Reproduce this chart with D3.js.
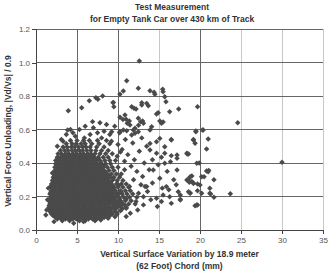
<!DOCTYPE html>
<html>
<head>
<meta charset="utf-8">
<script src="https://cdn.jsdelivr.net/npm/d3@7"></script>
<style>
  body { margin: 0; background: #fff; }
  svg { display: block; font-family: "Liberation Sans", Arial, sans-serif; }
</style>
</head>
<body>
<div id="chart"></div>
<script>
// dense core of the cloud, read row by row (force level -> surface variation values)
var coreLevels = [0.055, 0.075, 0.095, 0.115, 0.135, 0.155, 0.175, 0.195, 0.215, 0.235, 0.255, 0.275,
  0.295, 0.315, 0.335, 0.355, 0.375, 0.395, 0.415, 0.435, 0.455, 0.475, 0.495, 0.515, 0.535];
var coreRows = [
  [3.2, 4.1, 5.3, 6.0, 7.2],
  [2.4, 2.9, 3.4, 3.8, 4.3, 4.8, 5.2, 5.7, 6.2, 6.6, 7.1, 7.6, 8.3],
  [1.9, 2.3, 2.8, 3.2, 3.7, 4.1, 4.6, 5.0, 5.5, 5.9, 6.4, 6.8, 7.3, 7.7, 8.2, 8.7, 9.3, 9.9],
  [1.7, 2.1, 2.6, 3.0, 3.5, 3.9, 4.4, 4.8, 5.3, 5.7, 6.2, 6.6, 7.1, 7.5, 8.0, 8.5, 9.0, 9.6, 10.3],
  [1.6, 2.0, 2.5, 2.9, 3.3, 3.8, 4.2, 4.7, 5.1, 5.6, 6.0, 6.5, 6.9, 7.4, 7.8, 8.3, 8.8, 9.3, 9.8, 10.4, 11.0],
  [1.7, 2.2, 2.6, 3.1, 3.5, 4.0, 4.4, 4.9, 5.3, 5.8, 6.2, 6.7, 7.1, 7.6, 8.0, 8.5, 9.0, 9.5, 10.0, 10.6, 11.3, 12.1],
  [1.6, 2.0, 2.5, 2.9, 3.4, 3.8, 4.3, 4.7, 5.2, 5.6, 6.1, 6.5, 7.0, 7.4, 7.9, 8.3, 8.8, 9.3, 9.8, 10.3, 10.9, 11.6],
  [1.8, 2.2, 2.7, 3.1, 3.6, 4.0, 4.5, 4.9, 5.4, 5.8, 6.3, 6.7, 7.2, 7.6, 8.1, 8.6, 9.1, 9.6, 10.1, 10.7, 11.4, 12.3],
  [1.7, 2.1, 2.6, 3.0, 3.5, 3.9, 4.4, 4.8, 5.3, 5.7, 6.2, 6.6, 7.1, 7.5, 8.0, 8.4, 8.9, 9.4, 10.0, 10.5, 11.1, 11.8],
  [1.9, 2.3, 2.8, 3.2, 3.7, 4.1, 4.6, 5.0, 5.5, 5.9, 6.4, 6.8, 7.3, 7.7, 8.2, 8.7, 9.2, 9.7, 10.3, 10.9, 11.5],
  [1.8, 2.2, 2.7, 3.1, 3.6, 4.0, 4.5, 4.9, 5.4, 5.8, 6.3, 6.7, 7.2, 7.6, 8.1, 8.5, 9.0, 9.5, 10.0, 10.6, 11.3],
  [1.9, 2.4, 2.8, 3.3, 3.7, 4.2, 4.6, 5.1, 5.5, 6.0, 6.4, 6.9, 7.3, 7.8, 8.2, 8.7, 9.2, 9.8, 10.4, 11.0],
  [2.0, 2.4, 2.9, 3.3, 3.8, 4.2, 4.7, 5.1, 5.6, 6.0, 6.5, 6.9, 7.4, 7.8, 8.3, 8.8, 9.3, 9.9, 10.6],
  [2.1, 2.6, 3.0, 3.5, 3.9, 4.4, 4.8, 5.3, 5.7, 6.2, 6.6, 7.1, 7.5, 8.0, 8.5, 9.0, 9.5, 10.2],
  [2.2, 2.6, 3.1, 3.5, 4.0, 4.4, 4.9, 5.3, 5.8, 6.2, 6.7, 7.1, 7.6, 8.1, 8.6, 9.2, 9.8, 10.4],
  [2.3, 2.8, 3.2, 3.7, 4.1, 4.6, 5.0, 5.5, 5.9, 6.4, 6.8, 7.3, 7.8, 8.3, 8.9, 9.5],
  [2.3, 2.7, 3.2, 3.6, 4.1, 4.5, 5.0, 5.4, 5.9, 6.3, 6.8, 7.2, 7.7, 8.2, 8.7, 9.3, 10.0],
  [2.4, 2.9, 3.3, 3.8, 4.2, 4.7, 5.1, 5.6, 6.0, 6.5, 6.9, 7.4, 7.9, 8.5, 9.1],
  [2.4, 2.8, 3.3, 3.7, 4.2, 4.6, 5.1, 5.5, 6.0, 6.4, 6.9, 7.3, 7.8, 8.4, 9.0, 9.7],
  [2.6, 3.0, 3.5, 3.9, 4.4, 4.8, 5.3, 5.7, 6.2, 6.6, 7.1, 7.6, 8.2, 8.8],
  [2.7, 3.1, 3.6, 4.0, 4.5, 4.9, 5.4, 5.8, 6.3, 6.7, 7.2, 7.8, 8.5, 9.3],
  [3.0, 3.5, 3.9, 4.4, 4.8, 5.3, 5.7, 6.2, 6.7, 7.3, 8.0, 8.8],
  [3.3, 3.8, 4.3, 4.7, 5.2, 5.7, 6.1, 6.6, 7.4, 8.3],
  [3.7, 4.4, 4.9, 5.5, 6.0, 6.8, 7.7, 9.0],
  [4.2, 5.0, 5.8, 6.5, 7.5, 8.6]
];

// in-between rows of the solid part of the core
var fillLevels = [0.065, 0.085, 0.105, 0.125, 0.145, 0.165, 0.185, 0.205, 0.225, 0.245,
  0.265, 0.285, 0.305, 0.325, 0.345, 0.365, 0.385, 0.405, 0.425, 0.445];
var fillRows = [
  [2.6, 3.1, 3.6, 4.0, 4.5, 4.9, 5.4, 5.9, 6.4, 6.9, 7.4, 7.9],
  [2.1, 2.6, 3.0, 3.5, 3.9, 4.4, 4.8, 5.3, 5.7, 6.2, 6.6, 7.1, 7.5, 8.0, 8.5, 9.0],
  [1.8, 2.3, 2.7, 3.2, 3.6, 4.1, 4.5, 5.0, 5.4, 5.9, 6.3, 6.8, 7.2, 7.7, 8.1, 8.6, 9.2, 9.8],
  [1.7, 2.2, 2.6, 3.1, 3.5, 4.0, 4.4, 4.9, 5.3, 5.8, 6.2, 6.7, 7.1, 7.6, 8.0, 8.5, 9.1, 9.7, 10.5],
  [1.6, 2.1, 2.5, 3.0, 3.4, 3.9, 4.3, 4.8, 5.2, 5.7, 6.1, 6.6, 7.0, 7.5, 7.9, 8.4, 8.9, 9.5, 10.2, 10.9],
  [1.8, 2.2, 2.7, 3.1, 3.6, 4.0, 4.5, 4.9, 5.4, 5.8, 6.3, 6.7, 7.2, 7.6, 8.1, 8.6, 9.1, 9.7, 10.4],
  [1.7, 2.1, 2.6, 3.0, 3.5, 3.9, 4.4, 4.8, 5.3, 5.7, 6.2, 6.6, 7.1, 7.5, 8.0, 8.4, 8.9, 9.5, 10.2, 11.0],
  [1.9, 2.3, 2.8, 3.2, 3.7, 4.1, 4.6, 5.0, 5.5, 5.9, 6.4, 6.8, 7.3, 7.7, 8.2, 8.7, 9.3, 9.9],
  [1.8, 2.2, 2.7, 3.1, 3.6, 4.0, 4.5, 4.9, 5.4, 5.8, 6.3, 6.7, 7.2, 7.6, 8.1, 8.6, 9.1, 9.7, 10.4],
  [2.0, 2.4, 2.9, 3.3, 3.8, 4.2, 4.7, 5.1, 5.6, 6.0, 6.5, 6.9, 7.4, 7.8, 8.3, 8.8, 9.4],
  [1.9, 2.3, 2.8, 3.2, 3.7, 4.1, 4.6, 5.0, 5.5, 5.9, 6.4, 6.8, 7.3, 7.7, 8.2, 8.7, 9.3, 10.1],
  [2.1, 2.5, 3.0, 3.4, 3.9, 4.3, 4.8, 5.2, 5.7, 6.1, 6.6, 7.0, 7.5, 7.9, 8.4, 9.0],
  [2.2, 2.7, 3.1, 3.6, 4.0, 4.5, 4.9, 5.4, 5.8, 6.3, 6.7, 7.2, 7.6, 8.1, 8.7, 9.4],
  [2.3, 2.8, 3.2, 3.7, 4.1, 4.6, 5.0, 5.5, 5.9, 6.4, 6.8, 7.3, 7.8, 8.3, 8.9],
  [2.4, 2.9, 3.3, 3.8, 4.2, 4.7, 5.1, 5.6, 6.0, 6.5, 6.9, 7.4, 7.9, 8.5],
  [2.5, 3.0, 3.4, 3.9, 4.3, 4.8, 5.2, 5.7, 6.1, 6.6, 7.0, 7.5, 8.0],
  [2.6, 3.1, 3.5, 4.0, 4.4, 4.9, 5.3, 5.8, 6.2, 6.7, 7.1, 7.6, 8.2],
  [2.7, 3.2, 3.6, 4.1, 4.5, 5.0, 5.4, 5.9, 6.3, 6.8, 7.3, 7.9],
  [2.9, 3.4, 3.8, 4.3, 4.7, 5.2, 5.6, 6.1, 6.5, 7.0, 7.6],
  [3.2, 3.7, 4.1, 4.6, 5.0, 5.5, 5.9, 6.4, 6.9]
];

// scattered points outside the core (surface variation mm, force unloading)
var outerX = [12.6, 11.06, 12.48, 10.65, 10.24, 13.9, 14.4, 14.5, 15.45, 15.5, 15.7, 15.85, 17.4, 19.7, 16.3, 14.9, 14.7,
  9.4, 9.5, 11.67, 11.95, 12.2, 12.9, 12.9, 13.5, 13.7, 10.85, 10.24, 10.98, 11.38, 11.13, 12.48, 12.77, 13.0, 13.1,
  15.1, 15.3, 15.5, 14.1, 13.9, 11.46, 12.07, 11.87, 12.48, 12.07, 11.67, 11.06, 10.65, 10.24, 9.23, 19.5, 20.3,
  16.5, 19.2, 21.0, 14.7, 13.9, 24.6, 19.5, 20.4, 19.2, 20.8, 18.45, 19.9, 30.0, 20.8, 21.06, 20.5, 21.7, 19.0, 18.6,
  18.7, 19.7, 19.7, 21.2, 18.8, 20.2, 21.3, 21.7, 23.7, 17.6, 17.6, 19.4, 19.7,
  16.5, 15.3, 15.7, 17.2, 18.6, 16.4, 17.2, 18.8, 21.0, 20.2, 18.4, 19.2, 20.0, 19.0, 21.2, 17.35, 16.3, 15.5, 18.8,
  9.63, 15.1, 15.7, 16.5, 17.2, 18.4, 19.4, 19.6, 19.2, 18.6, 17.6, 16.5, 19.6, 15.7, 14.7, 13.9, 14.3, 15.1, 15.9,
  13.5, 13.1, 14.7,
  3.94, 5.57, 6.5, 7.3, 7.55, 8.13, 9.43, 6.9, 3.86,
  10.5, 11.2, 12.0, 12.6, 13.2, 11.6, 12.3, 13.0, 13.8, 12.8, 13.6, 14.2, 11.9, 12.5, 13.1, 12.4, 11.5, 14.8,
  10.9, 11.8, 12.9, 13.5, 10.2, 9.0, 8.3, 7.5, 6.6, 9.6, 8.6, 7.8, 10.6, 14.2, 14.9, 16.0, 16.8, 15.4, 16.2, 17.1,
  14.0, 15.3, 11.0, 1.3, 1.4, 1.2, 1.5, 2.0, 2.6, 3.1, 3.7, 4.5, 5.3, 6.0, 2.2, 4.6, 5.8, 7.9, 8.8, 12.5,
  4.8, 5.9, 7.0, 8.0, 9.2, 10.0, 3.3, 4.2, 9.9, 10.8, 11.4, 12.2, 13.3, 11.0, 10.3, 10.8];
var outerY = [1.009, 0.891, 0.846, 0.83, 0.81, 0.832, 0.822, 0.81, 0.84, 0.826, 0.796, 0.766, 0.722, 0.736, 0.706, 0.70, 0.692,
  0.76, 0.736, 0.736, 0.727, 0.722, 0.76, 0.746, 0.756, 0.742, 0.687, 0.673, 0.661, 0.651, 0.637, 0.667, 0.647, 0.651, 0.637,
  0.651, 0.637, 0.645, 0.617, 0.597, 0.627, 0.607, 0.597, 0.587, 0.577, 0.567, 0.593, 0.597, 0.587, 0.587, 0.591, 0.597,
  0.541, 0.537, 0.543, 0.527, 0.517, 0.64, 0.587, 0.597, 0.54, 0.484, 0.454, 0.40, 0.404, 0.352, 0.356, 0.318, 0.30, 0.322, 0.304,
  0.285, 0.275, 0.235, 0.249, 0.221, 0.219, 0.215, 0.195, 0.217, 0.209, 0.183, 0.145, 0.149,
  0.444, 0.434, 0.458, 0.428, 0.454, 0.408, 0.358, 0.318, 0.348, 0.318, 0.299, 0.279, 0.269, 0.289, 0.219, 0.229, 0.199, 0.209, 0.219,
  0.079, 0.547, 0.497, 0.537, 0.448, 0.458, 0.518, 0.398, 0.279, 0.229, 0.179, 0.159, 0.149, 0.398, 0.458, 0.478, 0.358, 0.309, 0.259,
  0.259, 0.199, 0.189,
  0.712, 0.73, 0.772, 0.79, 0.78, 0.80, 0.762, 0.647, 0.597,
  0.48, 0.45, 0.42, 0.47, 0.40, 0.38, 0.35, 0.32, 0.36, 0.27, 0.23, 0.28, 0.30, 0.22, 0.15, 0.12, 0.10, 0.14,
  0.54, 0.52, 0.55, 0.50, 0.58, 0.57, 0.59, 0.58, 0.57, 0.62, 0.63, 0.64, 0.66, 0.42, 0.39, 0.35, 0.30, 0.25, 0.24, 0.27,
  0.18, 0.17, 0.08, 0.12, 0.18, 0.09, 0.25, 0.34, 0.50, 0.54, 0.57, 0.58, 0.60, 0.62, 0.05, 0.04, 0.05, 0.06, 0.07, 0.625,
  0.56, 0.55, 0.61, 0.55, 0.53, 0.51, 0.53, 0.60, 0.44, 0.36, 0.26, 0.17, 0.26, 0.13, 0.465, 0.41];

var xTicks = [0, 5, 10, 15, 20, 25, 30, 35];
var yTicks = [0.0, 0.2, 0.4, 0.6, 0.8, 1.0, 1.2];
var lightGridX = [15, 25, 30, 35];
var titleLines = ["Test Measurement", "for Empty Tank Car over 430 km  of Track"];
var xTitleLines = ["Vertical Surface Variation by 18.9 meter", "(62 Foot) Chord (mm)"];
var yTitle = "Vertical Force Unloading, |Vd/Vs| / 0.9";

var w = 329, h = 273;
var margin = {top: 29, right: 6, bottom: 43, left: 36};

var points = [];
coreLevels.forEach(function(lv, i){
  coreRows[i].forEach(function(xv){ points.push({x: xv, y: lv}); });
});
fillLevels.forEach(function(lv, i){
  fillRows[i].forEach(function(xv){ points.push({x: xv, y: lv}); });
});
outerX.forEach(function(xv, i){ points.push({x: xv, y: outerY[i]}); });

var svg = d3.select("#chart").append("svg")
  .attr("width", w)
  .attr("height", h);

var x = d3.scaleLinear().domain([0, 35]).range([margin.left, w - margin.right]);
var y = d3.scaleLinear().domain([0, 1.2]).range([h - margin.bottom, margin.top]);

// grid
svg.append("g").selectAll("line")
  .data(xTicks.slice(1))
  .enter().append("line")
  .attr("x1", function(d){ return x(d); })
  .attr("x2", function(d){ return x(d); })
  .attr("y1", y(0))
  .attr("y2", y(1.2))
  .attr("stroke", function(d){ return lightGridX.indexOf(d) >= 0 ? "#c8c8c8" : "#666"; })
  .attr("stroke-width", 1)
  .attr("shape-rendering", "crispEdges");

svg.append("g").selectAll("line")
  .data(yTicks.slice(1))
  .enter().append("line")
  .attr("x1", x(0))
  .attr("x2", x(35))
  .attr("y1", function(d){ return y(d); })
  .attr("y2", function(d){ return y(d); })
  .attr("stroke", "#666")
  .attr("stroke-width", 1)
  .attr("shape-rendering", "crispEdges");

// points
var sym = d3.symbol().type(d3.symbolSquare).size(15);
svg.append("g").selectAll("path")
  .data(points)
  .enter().append("path")
  .attr("d", sym)
  .attr("transform", function(d){ return "translate(" + x(d.x) + "," + y(d.y) + ") rotate(45)"; })
  .attr("fill", "#4a4a4a");

// axes
var xAxis = svg.append("g")
  .attr("transform", "translate(0," + y(0) + ")")
  .call(d3.axisBottom(x).tickValues(xTicks).tickSize(4).tickPadding(3).tickFormat(d3.format("d")));
var yAxis = svg.append("g")
  .attr("transform", "translate(" + x(0) + ",0)")
  .call(d3.axisLeft(y).tickValues(yTicks).tickSize(4).tickPadding(2).tickFormat(d3.format(".1f")));

[xAxis, yAxis].forEach(function(ax){
  ax.select(".domain").attr("stroke", "#444").attr("shape-rendering", "crispEdges");
  ax.selectAll(".tick line").attr("stroke", "#444").attr("shape-rendering", "crispEdges");
  ax.selectAll(".tick text")
    .attr("fill", "#555")
    .style("font-size", "8px")
    .style("font-family", "'Liberation Sans', Arial, sans-serif");
});

// titles
svg.append("g").selectAll("text")
  .data(titleLines)
  .enter().append("text")
  .attr("x", 172)
  .attr("y", function(d, i){ return 10 + i * 12; })
  .attr("text-anchor", "middle")
  .attr("fill", "#333")
  .style("font-size", "8.5px")
  .style("font-weight", "bold")
  .text(function(d){ return d; });

svg.append("g").selectAll("text")
  .data(xTitleLines)
  .enter().append("text")
  .attr("x", (x(0) + x(35)) / 2)
  .attr("y", function(d, i){ return 257 + i * 12; })
  .attr("text-anchor", "middle")
  .attr("fill", "#333")
  .style("font-size", "8.5px")
  .style("font-weight", "bold")
  .text(function(d){ return d; });

svg.append("text")
  .attr("transform", "translate(11," + 131 + ") rotate(-90)")
  .attr("text-anchor", "middle")
  .attr("fill", "#333")
  .style("font-size", "8.5px")
  .style("font-weight", "bold")
  .text(yTitle);
</script>
</body>
</html>
